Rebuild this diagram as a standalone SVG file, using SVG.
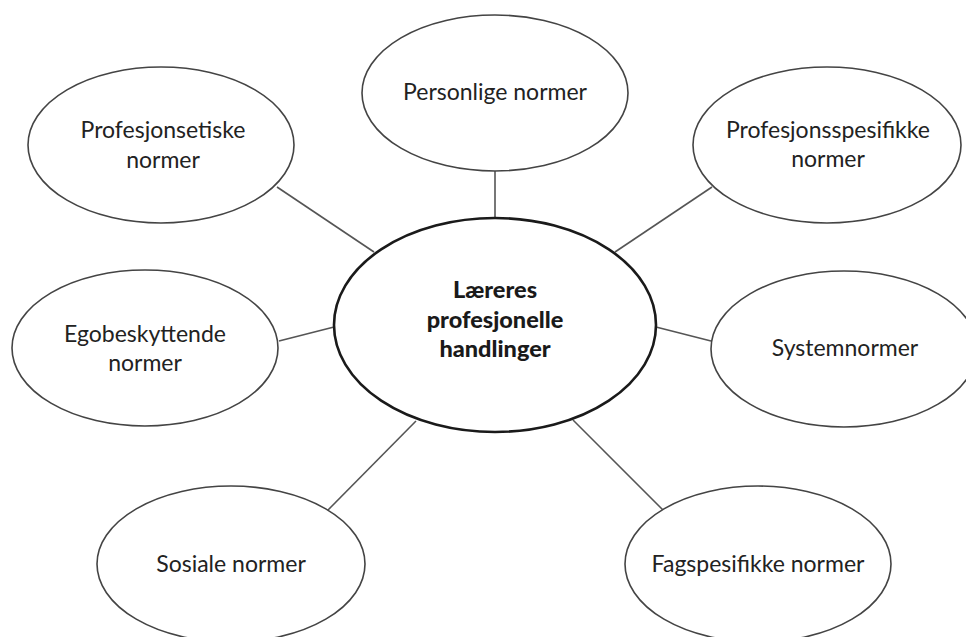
<svg xmlns="http://www.w3.org/2000/svg" width="966" height="637" viewBox="0 0 966 637">
<style>
.n{fill:#fff;stroke:#444;stroke-width:1.6}
.c{fill:#fff;stroke:#1a1a1a;stroke-width:2.6}
.t{font-family:Lato,"Liberation Sans",sans-serif;font-size:23px;fill:#222;text-anchor:middle}
.b{font-family:Lato,"Liberation Sans",sans-serif;font-size:23.5px;font-weight:900;fill:#1a1a1a;text-anchor:middle}
.l{stroke:#555;stroke-width:1.6;fill:none}
</style>
<rect width="966" height="637" fill="#fff"/>
<g id="connectors">
<line class="l" x1="277" y1="187" x2="374" y2="252"/>
<line class="l" x1="495" y1="171" x2="495" y2="218"/>
<line class="l" x1="712" y1="187" x2="615" y2="252"/>
<line class="l" x1="279" y1="341" x2="334" y2="327"/>
<line class="l" x1="656" y1="327" x2="711" y2="341"/>
<line class="l" x1="416" y1="421" x2="328" y2="510"/>
<line class="l" x1="573" y1="420" x2="663" y2="510"/>
</g>
<g id="center">
<ellipse class="c" cx="495" cy="325" rx="161" ry="107"/>
<text class="b" x="495" y="298">Læreres</text>
<text class="b" x="495" y="328">profesjonelle</text>
<text class="b" x="495" y="357">handlinger</text>
</g>
<g id="personlige">
<ellipse class="n" cx="495" cy="93" rx="133" ry="78"/>
<text class="t" x="495" y="100">Personlige normer</text>
</g>
<g id="profesjonsetiske">
<ellipse class="n" cx="161" cy="145" rx="133" ry="78"/>
<text class="t" x="163" y="138">Profesjonsetiske</text>
<text class="t" x="163" y="168">normer</text>
</g>
<g id="profesjonsspesifikke">
<ellipse class="n" cx="827" cy="145" rx="134" ry="78"/>
<text class="t" x="828" y="138">Profesjonsspesifikke</text>
<text class="t" x="828" y="167">normer</text>
</g>
<g id="egobeskyttende">
<ellipse class="n" cx="145" cy="348" rx="133" ry="78"/>
<text class="t" x="145" y="342">Egobeskyttende</text>
<text class="t" x="145" y="371">normer</text>
</g>
<g id="systemnormer">
<ellipse class="n" cx="844" cy="349" rx="133" ry="78"/>
<text class="t" x="845" y="356">Systemnormer</text>
</g>
<g id="sosiale">
<ellipse class="n" cx="231" cy="564" rx="134" ry="78"/>
<text class="t" x="231" y="572">Sosiale normer</text>
</g>
<g id="fagspesifikke">
<ellipse class="n" cx="758" cy="564" rx="133" ry="78"/>
<text class="t" x="758" y="572">Fagspesifikke normer</text>
</g>
</svg>
